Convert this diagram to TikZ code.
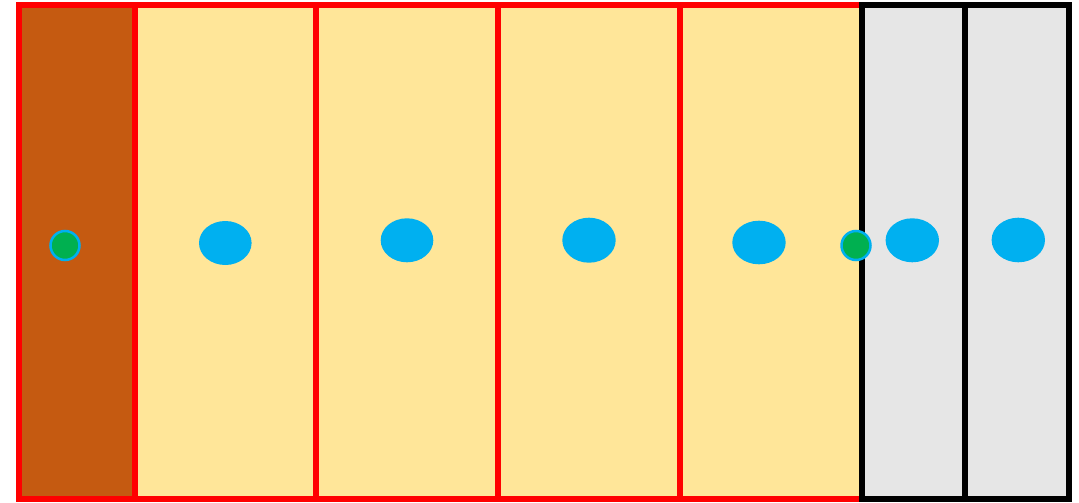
\documentclass[tikz,border=0pt]{standalone}
\definecolor{brownc}{HTML}{C55A11}
\definecolor{yellowc}{HTML}{FFE699}
\definecolor{grayc}{HTML}{E6E6E6}
\definecolor{bluec}{HTML}{00B0F0}
\definecolor{greenc}{HTML}{00B050}
\definecolor{redc}{HTML}{FF0000}
\begin{document}
\begin{tikzpicture}[x=1pt,y=-1pt,
  redcell/.style={draw=redc,line width=6pt,line join=miter},
  graycell/.style={draw=black,fill=grayc,line width=6pt,line join=miter},
  blob/.style={fill=bluec},
  dot/.style={fill=greenc,draw=bluec,line width=2.5pt}]
\useasboundingbox (0,0) rectangle (1079,503);
% cells
\path[redcell,fill=brownc] (19,5) rectangle (134.5,498.7);
\path[redcell,fill=yellowc] (134.5,5) rectangle (316.3,498.7);
\path[redcell,fill=yellowc] (316.3,5) rectangle (498,498.7);
\path[redcell,fill=yellowc] (498,5) rectangle (679.7,498.7);
\path[redcell,fill=yellowc] (679.7,5) rectangle (861.5,498.7);
\path[graycell] (861.5,5.3) rectangle (965,498.7);
\path[graycell] (965,5.3) rectangle (1068.5,498.7);
% blue ellipses
\path[blob] (225.3,243) ellipse [x radius=26.3, y radius=22];
\path[blob] (407,240.3) ellipse [x radius=26.3, y radius=22];
\path[blob] (589,240.2) ellipse [x radius=26.7, y radius=22.5];
\path[blob] (759,242.5) ellipse [x radius=26.7, y radius=21.8];
\path[blob] (912.3,240.3) ellipse [x radius=26.7, y radius=22];
\path[blob] (1018.3,240) ellipse [x radius=26.7, y radius=22.3];
% green dots
\path[dot] (65,245.5) circle [radius=14.5];
\path[dot] (856,245.5) circle [radius=14.5];
\end{tikzpicture}
\end{document}
